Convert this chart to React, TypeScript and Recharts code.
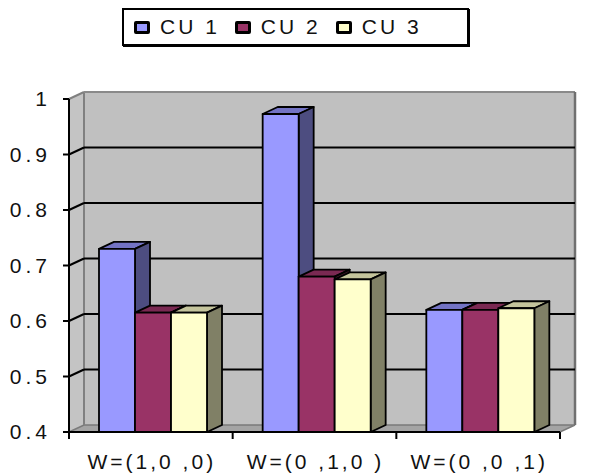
import React from 'react';
import { BarChart, Bar, XAxis, YAxis, CartesianGrid } from 'recharts';

const categories = ['W=(1,0 ,0)', 'W=(0 ,1,0 )', 'W=(0 ,0 ,1)'];
const cu1 = [0.73, 0.973, 0.62];
const cu2 = [0.615, 0.68, 0.62];
const cu3 = [0.615, 0.675, 0.623];
const yTicks = [0.4, 0.5, 0.6, 0.7, 0.8, 0.9, 1];

const series = [
  { key: 'cu1', name: 'CU 1', front: '#9999ff', top: '#7373c4', side: '#4d4d80' },
  { key: 'cu2', name: 'CU 2', front: '#993366', top: '#7a2952', side: '#4d1a33' },
  { key: 'cu3', name: 'CU 3', front: '#ffffcc', top: '#c4c49c', side: '#808066' },
];

const data = categories.map((c, i) => ({ name: c, cu1: cu1[i], cu2: cu2[i], cu3: cu3[i] }));

// 3d depth offset
const DX = 15;
const DY = -7;
const FONT = '"Liberation Sans", Arial, sans-serif';

const Bar3D = (props: any) => {
  const { x, y, width, height, colors } = props;
  if (width == null || height == null || height <= 0) return null;
  const x0 = x + 2;
  const x1 = x0 + width;
  const yb = y + height;
  return (
    <g stroke="#000" strokeWidth={1.8} strokeLinejoin="round">
      <polygon points={`${x0},${y} ${x0 + DX},${y + DY} ${x1 + DX},${y + DY} ${x1},${y}`} fill={colors.top} />
      <polygon points={`${x1},${y} ${x1 + DX},${y + DY} ${x1 + DX},${yb + DY} ${x1},${yb}`} fill={colors.side} />
      <rect x={x0} y={y} width={width} height={height} fill={colors.front} />
    </g>
  );
};

const gridLine = (p: any) => {
  const { x1, x2, y1, index } = p;
  const top = p.y;
  const bottom = p.y + p.height;
  const last = index === yTicks.length - 1;
  let walls = null;
  if (index === 0 && top != null && p.height != null) {
    walls = (
      <g>
        <polygon points={`${x1},${top} ${x1 + DX},${top + DY} ${x1 + DX},${bottom + DY} ${x1},${bottom}`} fill="#c4c4c4" />
        <rect x={x1 + DX} y={top + DY} width={x2 - x1} height={bottom - top} fill="#c0c0c0" />
        <polygon points={`${x1},${bottom} ${x2},${bottom} ${x2 + DX},${bottom + DY} ${x1 + DX},${bottom + DY}`} fill="#a4a4a4" stroke="#7a7a7a" strokeWidth={1.5} />
        <line x1={x1 + DX} y1={top + DY} x2={x1 + DX} y2={bottom + DY} stroke="#808080" strokeWidth={2} />
        <line x1={x1} y1={top} x2={x1 + DX} y2={top + DY} stroke="#808080" strokeWidth={2} />
        <line x1={x1 + DX} y1={top + DY} x2={x2 + DX} y2={top + DY} stroke="#8a8a8a" strokeWidth={2} />
        <line x1={x2 + DX} y1={top + DY} x2={x2 + DX} y2={bottom + DY} stroke="#707070" strokeWidth={2.5} />
      </g>
    );
  }
  if (index === 0 || last) return <g key={p.key}>{walls}</g>;
  return (
    <g key={p.key}>
      <line x1={x1 + DX} y1={y1 + DY} x2={x2 + DX} y2={y1 + DY} stroke="#000" strokeWidth={2} />
      <line x1={x1} y1={y1} x2={x1 + DX} y2={y1 + DY} stroke="#000" strokeWidth={2} />
    </g>
  );
};

const XTick = (props: any) => {
  const { x, y, payload, index } = props;
  const half = payload.offset ?? 0;
  const count = props.visibleTicksCount ?? categories.length;
  return (
    <g>
      <line x1={x - half} y1={y} x2={x - half} y2={y + 7} stroke="#000" strokeWidth={2} />
      {index === count - 1 && <line x1={x + half} y1={y} x2={x + half} y2={y + 7} stroke="#000" strokeWidth={2} />}
      <text x={x + 1} y={y + 37} textAnchor="middle" fontFamily={FONT} fontSize={21} letterSpacing={3} fill="#111">
        {payload.value}
      </text>
    </g>
  );
};

export default function App() {
  return (
    <div style={{ position: 'absolute', left: 0, top: 0, width: 594, height: 474, background: '#fff' }}>
      <BarChart
        width={594}
        height={474}
        data={data}
        margin={{ top: 99, right: 34, bottom: 0, left: 9 }}
        barCategoryGap={28}
        barGap={0}
      >
        <CartesianGrid vertical={false} horizontal={gridLine} />
        <XAxis
          dataKey="name"
          height={42}
          axisLine={{ stroke: '#000', strokeWidth: 2 }}
          tickLine={false}
          tickSize={0}
          tickMargin={0}
          tick={<XTick />}
          interval={0}
        />
        <YAxis
          width={60}
          domain={[0.4, 1]}
          ticks={yTicks}
          allowDataOverflow
          axisLine={{ stroke: '#000', strokeWidth: 2 }}
          tickLine={{ stroke: '#000', strokeWidth: 2 }}
          tickSize={6}
          tickMargin={12}
          tick={{ fill: '#111', fontSize: 21, fontFamily: FONT, letterSpacing: 4 }}
        />
        {series.map((s) => (
          <Bar
            key={s.key}
            dataKey={s.key}
            name={s.name}
            fill={s.front}
            isAnimationActive={false}
            shape={(p: any) => <Bar3D {...p} colors={s} />}
          />
        ))}
      </BarChart>
      <div
        style={{
          position: 'absolute',
          left: 122,
          top: 8,
          width: 333,
          height: 34,
          border: '2px solid #000',
          boxShadow: '1px 1px 0 #000',
          display: 'flex',
          alignItems: 'center',
          paddingLeft: 10,
          boxSizing: 'content-box',
          fontFamily: FONT,
          fontSize: 21,
          letterSpacing: 3,
          color: '#111',
        }}
      >
        {series.map((s) => (
          <div key={s.key} style={{ display: 'flex', alignItems: 'center', marginRight: 15 }}>
            <span
              style={{
                display: 'inline-block',
                width: 10,
                height: 7,
                border: '3px solid #000',
                borderRadius: 2,
                background: s.front,
                marginRight: 10,
              }}
            />
            <span>{s.name}</span>
          </div>
        ))}
      </div>
    </div>
  );
}
